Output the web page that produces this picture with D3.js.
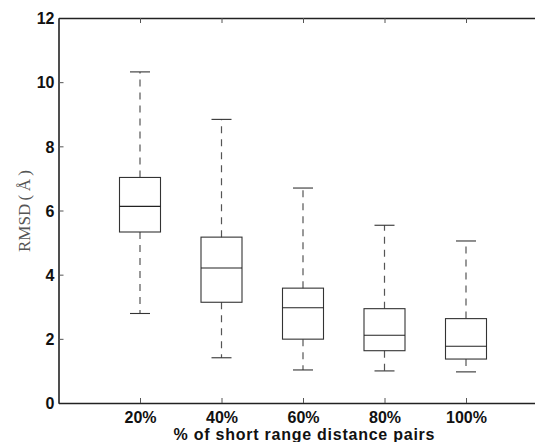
<!DOCTYPE html>
<html>
<head>
<meta charset="utf-8">
<script src="https://cdn.jsdelivr.net/npm/d3@7"></script>
<style>
  body { margin: 0; background: #fff; }
  svg { display: block; }
</style>
</head>
<body>
<div id="chart"></div>
<script>
// values
var categories = ["20%", "40%", "60%", "80%", "100%"];
var whiskerHigh = [10.32, 8.84, 6.70, 5.54, 5.05];
var q3 = [7.03, 5.17, 3.58, 2.94, 2.63];
var median = [6.13, 4.21, 2.97, 2.11, 1.77];
var q1 = [5.33, 3.14, 1.99, 1.63, 1.37];
var whiskerLow = [2.79, 1.41, 1.03, 1.00, 0.97];
var yTicks = [0, 2, 4, 6, 8, 10, 12];

var width = 535, height = 442;
var plotLeft = 58.5, plotTop = 18, plotBottom = 403;

var svg = d3.select("#chart").append("svg")
   .attr("width", width)
   .attr("height", height);

var x = d3.scaleLinear().domain([0, 6]).range([plotLeft, plotLeft + 6 * 81.5]);
var y = d3.scaleLinear().domain([0, 12]).range([plotBottom, plotTop]);

var boxes = categories.map(function(c, i) {
   return {name: c, pos: i + 1, hi: whiskerHigh[i], q3: q3[i], med: median[i], q1: q1[i], lo: whiskerLow[i]};
});

var labelFont = "Liberation Sans, Arial, Helvetica, sans-serif";

// axes
var yAxis = d3.axisLeft(y).tickValues(yTicks).tickSizeInner(-5).tickSizeOuter(0).tickPadding(4);
var gy = svg.append("g").attr("transform", "translate(" + plotLeft + ",0)").call(yAxis);

var xAxis = d3.axisBottom(x).tickValues(boxes.map(function(d) { return d.pos; }))
   .tickFormat(function(d, i) { return categories[i]; })
   .tickSizeInner(-5).tickSizeOuter(0).tickPadding(9);
var gx = svg.append("g").attr("transform", "translate(0," + plotBottom + ")").call(xAxis);

var xTop = d3.axisTop(x).tickValues(boxes.map(function(d) { return d.pos; }))
   .tickFormat("").tickSizeInner(-5).tickSizeOuter(0);
var gt = svg.append("g").attr("transform", "translate(0," + plotTop + ")").call(xTop);

[gy, gx, gt].forEach(function(g) {
   g.select(".domain").attr("stroke", "#222").attr("stroke-width", 1.6);
   g.selectAll(".tick line").attr("stroke", "#555").attr("stroke-width", 1);
   g.selectAll(".tick text")
     .attr("font-family", labelFont)
     .attr("font-weight", "bold")
     .attr("font-size", "16px")
     .attr("fill", "#111");
});
gy.selectAll(".tick text").attr("dy", "0.36em");

// boxes
var halfBox = 20.5, halfCap = 10;
var g = svg.selectAll("g.box")
   .data(boxes)
   .enter().append("g")
   .attr("class", "box");

g.append("line")
   .attr("x1", function(d) { return x(d.pos); })
   .attr("x2", function(d) { return x(d.pos); })
   .attr("y1", function(d) { return y(d.q3); })
   .attr("y2", function(d) { return y(d.hi); })
   .attr("stroke", "#555").attr("stroke-width", 1.2)
   .attr("stroke-dasharray", "7,6");

g.append("line")
   .attr("x1", function(d) { return x(d.pos); })
   .attr("x2", function(d) { return x(d.pos); })
   .attr("y1", function(d) { return y(d.q1); })
   .attr("y2", function(d) { return y(d.lo); })
   .attr("stroke", "#555").attr("stroke-width", 1.2)
   .attr("stroke-dasharray", "7,6");

["hi", "lo"].forEach(function(k) {
   g.append("line")
     .attr("x1", function(d) { return x(d.pos) - halfCap; })
     .attr("x2", function(d) { return x(d.pos) + halfCap; })
     .attr("y1", function(d) { return y(d[k]); })
     .attr("y2", function(d) { return y(d[k]); })
     .attr("stroke", "#333").attr("stroke-width", 1.1);
});

g.append("rect")
   .attr("x", function(d) { return x(d.pos) - halfBox; })
   .attr("y", function(d) { return y(d.q3); })
   .attr("width", halfBox * 2)
   .attr("height", function(d) { return y(d.q1) - y(d.q3); })
   .attr("fill", "none")
   .attr("stroke", "#333").attr("stroke-width", 1.1);

g.append("line")
   .attr("x1", function(d) { return x(d.pos) - halfBox; })
   .attr("x2", function(d) { return x(d.pos) + halfBox; })
   .attr("y1", function(d) { return y(d.med); })
   .attr("y2", function(d) { return y(d.med); })
   .attr("stroke", "#222").attr("stroke-width", 1.1);

// titles
svg.append("text")
   .attr("x", 304)
   .attr("y", 440)
   .attr("text-anchor", "middle")
   .attr("font-family", labelFont)
   .attr("font-weight", "bold")
   .attr("font-size", "16px")
   .attr("textLength", 261)
   .attr("fill", "#111")
   .text("% of short range distance pairs");

svg.append("text")
   .attr("transform", "translate(30,211) rotate(-90)")
   .attr("text-anchor", "middle")
   .attr("font-family", "Liberation Serif, Times New Roman, serif")
   .attr("font-size", "17px")
   .attr("fill", "#555")
   .text("RMSD\u2009(\u2009\u00C5\u2009)");
</script>
</body>
</html>
